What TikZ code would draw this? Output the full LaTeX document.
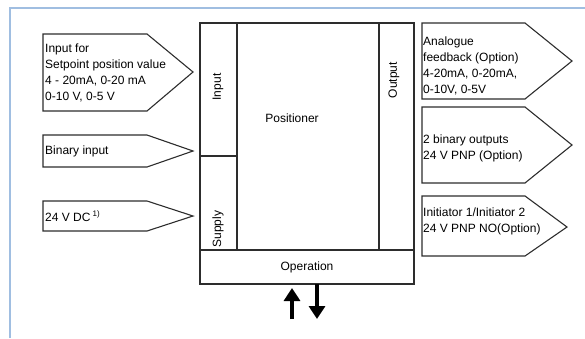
\documentclass[tikz,border=0pt]{standalone}
\usepackage{fontspec}
\setmainfont{Liberation Sans}
\usepackage{xcolor}
\usetikzlibrary{arrows.meta}
\definecolor{framec}{RGB}{160,190,225}
\definecolor{linec}{RGB}{45,45,45}

\tikzset{
  sig/.style={draw=linec, line width=1.1pt, line join=miter},
  blk/.style={draw=linec, line width=1.1pt},
  lbl/.style={font=\fontsize{12}{16}\selectfont, align=left, inner sep=1pt, anchor=west},
  vlbl/.style={font=\fontsize{12}{16}\selectfont, inner sep=1pt, rotate=90},
  flow/.style={line width=3.6pt, -{Triangle[length=13pt, width=16pt]}}
}

\begin{document}
\begin{tikzpicture}[x=1pt, y=-1pt]
  \useasboundingbox (0,0) rectangle (585,338);
  % frame
  \draw[framec, line width=1.6pt] (10,338) -- (10,8) -- (585,8);

  % inputs
  \draw[sig] (43,34) -- (147,34) -- (193,72) -- (147,111) -- (43,111) -- cycle;
  \draw[sig] (43,135) -- (147,135) -- (193,151) -- (147,167) -- (43,167) -- cycle;
  \draw[sig] (43,201) -- (147,201) -- (193,216) -- (147,231) -- (43,231) -- cycle;
  \node[lbl] (setin) at (44,73)
    {Input for\\Setpoint position value\\4 - 20mA, 0-20 mA\\0-10 V, 0-5 V};
  \node[lbl] (binin) at (44,151) {Binary input};
  \node[lbl] (supin) at (44,216) {24 V DC\,\textsuperscript{1)}};

  % outputs
  \draw[sig] (422,23) -- (525,23) -- (572,61) -- (525,99) -- (422,99) -- cycle;
  \draw[sig] (422,107) -- (525,107) -- (572,145) -- (525,183) -- (422,183) -- cycle;
  \draw[sig] (422,196) -- (525,196) -- (567,227) -- (525,256) -- (422,256) -- cycle;
  \node[lbl] (anafb) at (422,66)
    {Analogue\\feedback (Option)\\4-20mA, 0-20mA,\\0-10V, 0-5V};
  \node[lbl] (binout) at (422,148) {2 binary outputs\\24 V PNP (Option)};
  \node[lbl] (initr) at (422,221) {Initiator 1/Initiator 2\\24 V PNP NO(Option)};

  % positioner block
  \draw[blk] (200,23) rectangle (414,284);
  \draw[blk] (237,23) -- (237,250);
  \draw[blk] (200,156) -- (237,156);
  \draw[blk] (379,23) -- (379,250);
  \draw[blk] (200,250) -- (414,250);
  \node[vlbl] (inp) at (218,87) {Input};
  \node[vlbl] (sup) at (218,229) {Supply};
  \node[vlbl] (outp) at (394,80) {Output};
  \node[lbl, anchor=center] (pos) at (292,118) {Positioner};
  \node[lbl, anchor=center] (oper) at (307,267) {Operation};

  % operation arrows
  \coordinate (upbot) at (292,319);
  \coordinate (uptop) at (292,288);
  \coordinate (dntop) at (317,284);
  \coordinate (dnbot) at (317,319);
  \draw[flow] (upbot) -- (uptop);
  \draw[flow] (dntop) -- (dnbot);
\end{tikzpicture}
\end{document}
